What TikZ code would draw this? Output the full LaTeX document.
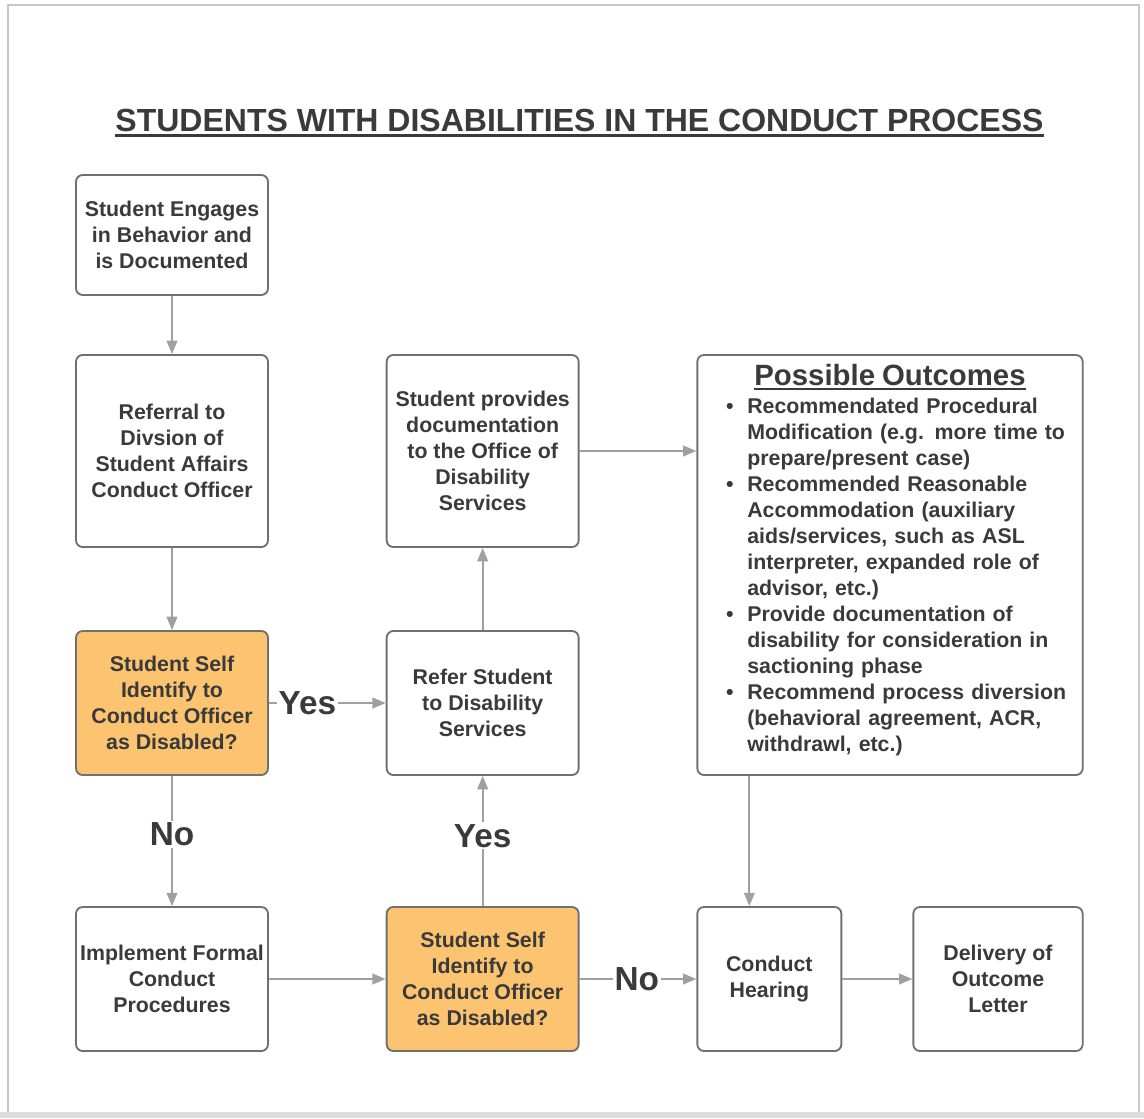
\documentclass[tikz,border=0pt]{standalone}
\usepackage{fontspec}
\setmainfont{Liberation Sans}
\usepackage{tikz}
\usetikzlibrary{arrows.meta, positioning}

\definecolor{inkgray}{RGB}{58,58,58}
\definecolor{boxgray}{RGB}{112,112,112}
\definecolor{linegray}{RGB}{160,160,160}
\definecolor{askorange}{RGB}{252,196,112}
\definecolor{framegray}{RGB}{200,200,200}

\newsavebox\ulbox
\newcommand\thickul[2]{\sbox\ulbox{#2}\rlap{\vrule height -#1 depth \dimexpr#1+2pt\relax width \wd\ulbox}\usebox\ulbox}
\newcommand\outcomeitem[1]{\par\lineskip=0pt\noindent\hbox to 27pt{\hskip 11pt\textbullet\hfil}\parbox[t]{241pt}{\raggedright\strut #1\strut}}

\begin{document}
\begin{tikzpicture}[
    x=0.75pt, y=-0.75pt,
    box/.style={rectangle, draw=boxgray, line width=1.4pt, rounded corners=5pt, minimum width=144pt, minimum height=108pt, align=center, inner sep=2pt, text=inkgray, font=\fontsize{16}{19.5}\selectfont\bfseries},
    query/.style={box, fill=askorange},
    arrow/.style={-{Triangle[length=10pt, width=8pt]}, line width=1.4pt, draw=linegray},
    answer/.style={font=\fontsize{25}{30}\selectfont\bfseries, text=inkgray, fill=white, inner sep=1.5pt},
]
\useasboundingbox (0,0) rectangle (1144,1118);

% ===== FRAME =====
\fill[framegray!60] (0,1112) rectangle (1144,1118);
\draw[framegray, line width=1pt] (8,1112) -- (8,5) -- (1139,5) -- (1139,1112);

% ===== TITLE =====
\node[font=\fontsize{24}{29}\selectfont\bfseries, text=inkgray] (title) at (579.5,123) {\thickul{2pt}{STUDENTS WITH DISABILITIES IN THE CONDUCT PROCESS}};

% ===== LEFT COLUMN =====
\node[box, minimum height=90pt] (engage) at (172,235) {Student Engages\\in Behavior and\\is Documented};
\node[box, minimum height=144pt, below=43.6pt of engage] (referral) {Referral to\\Divsion of\\Student Affairs\\Conduct Officer};
\node[query, below=61.6pt of referral] (selfid) {Student Self\\Identify to\\Conduct Officer\\as Disabled?};
\node[box, below=97.6pt of selfid] (formal) {Implement Formal\\Conduct\\Procedures};

% ===== MIDDLE COLUMN =====
\node[query, right=87.6pt of formal] (selfidtwo) {Student Self\\Identify to\\Conduct Officer\\as Disabled?};
\node[box, right=87.6pt of selfid] (refer) {Refer Student\\to Disability\\Services};
\node[box, minimum height=144pt, above=61.6pt of refer] (docs) {Student provides\\documentation\\to the Office of\\Disability\\Services};

% ===== RIGHT COLUMN =====
\node[box, minimum width=289pt, minimum height=315pt, text width=268pt, align=left, anchor=north west, inner xsep=10pt] (outcomes) at ([xshift=87.6pt]docs.north east) {%
  {\fontsize{22}{26}\selectfont\centerline{\thickul{1.5pt}{Possible Outcomes}}}\vskip 1pt
  \outcomeitem{Recommendated Procedural\\Modification (e.g. more time to\\prepare/present case)}
  \outcomeitem{Recommended Reasonable\\Accommodation (auxiliary\\aids/services, such as ASL\\interpreter, expanded role of\\advisor, etc.)}
  \outcomeitem{Provide documentation of\\disability for consideration in\\sactioning phase}
  \outcomeitem{Recommend process diversion\\(behavioral agreement, ACR,\\withdrawl, etc.)}
  \par\kern 5pt\hrule height 0pt};
\node[box, minimum width=108pt, right=87.6pt of selfidtwo] (hearing) {Conduct\\Hearing};
\node[box, minimum width=127pt, right=52.6pt of hearing] (letter) {Delivery of\\Outcome\\Letter};
\coordinate (drop) at ([xshift=-15pt]hearing.north);

% ===== CONNECTORS =====
\draw[arrow] (engage) -- (referral);
\draw[arrow] (referral) -- (selfid);
\draw[arrow] (selfid) -- node[answer, pos=0.45] (noone) {No} (formal);
\draw[arrow] (selfid) -- node[answer, pos=0.33] (yesone) {Yes} (refer);
\draw[arrow] (formal) -- (selfidtwo);
\draw[arrow] (selfidtwo) -- node[answer, pos=0.54] (yestwo) {Yes} (refer);
\draw[arrow] (selfidtwo) -- node[answer, pos=0.49] (notwo) {No} (hearing);
\draw[arrow] (refer) -- (docs);
\draw[arrow] (docs) -- (docs -| outcomes.west);
\draw[arrow] (outcomes.south -| drop) -- (drop);
\draw[arrow] (hearing) -- (letter);

\end{tikzpicture}
\end{document}
